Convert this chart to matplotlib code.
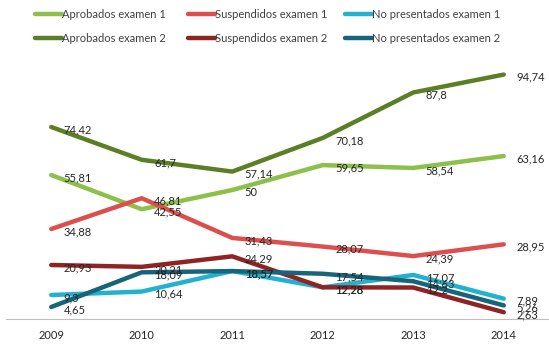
import matplotlib.pyplot as plt
from matplotlib.lines import Line2D

plt.rcParams['font.family'] = ['Lato', 'DejaVu Sans']

years = ['2009', '2010', '2011', '2012', '2013', '2014']

aprobados_1 = [55.81, 42.55, 50, 59.65, 58.54, 63.16]
suspendidos_1 = [34.88, 46.81, 31.43, 28.07, 24.39, 28.95]
no_presentados_1 = [9.3, 10.64, 18.57, 12.28, 17.07, 7.89]
aprobados_2 = [74.42, 61.7, 57.14, 70.18, 87.8, 94.74]
suspendidos_2 = [20.93, 20.21, 24.29, 12.28, 12.2, 2.63]
no_presentados_2 = [4.65, 18.09, 18.57, 17.54, 14.63, 5.26]

series = [
    ('Aprobados examen 1', aprobados_1, '#8cc04a'),
    ('Suspendidos examen 1', suspendidos_1, '#dc4f4c'),
    ('No presentados examen 1', no_presentados_1, '#22b2cf'),
    ('Aprobados examen 2', aprobados_2, '#5a7f24'),
    ('Suspendidos examen 2', suspendidos_2, '#8e2424'),
    ('No presentados examen 2', no_presentados_2, '#17657a'),
]

def fmt(v):
    s = ('%.2f' % v).rstrip('0').rstrip('.')
    return s.replace('.', ',')

fig = plt.figure(figsize=(5.49, 3.44), dpi=100)
ax = fig.add_axes([6 / 549, 25 / 344, 543 / 549, 258 / 344])

x = list(range(len(years)))
for name, vals, col in series:
    ax.plot(x, vals, color=col, lw=3.2, solid_joinstyle='round', solid_capstyle='round')
    for xi, v in zip(x, vals):
        ax.annotate(fmt(v), (xi, v), xytext=(9, -2), textcoords='offset points',
                    ha='left', va='center', fontsize=8, color='#262626')

ax.set_xlim(-0.5, 5.5)
ax.set_ylim(0, 100)
ax.set_xticks(x)
ax.set_xticklabels(years, fontsize=8, color='#262626')
ax.tick_params(axis='x', length=0, pad=8)
ax.set_yticks([])
for s in ['top', 'right', 'left']:
    ax.spines[s].set_visible(False)
ax.spines['bottom'].set_color('#bfbfbf')
ax.patch.set_alpha(0)

# legend drawn by hand: two rows of three entries
col_x = [35, 188, 345]
row_y = [14, 38]
for i, (name, vals, col) in enumerate(series):
    px = col_x[i % 3]
    py = 344 - row_y[i // 3]
    fig.add_artist(Line2D([px / 549, (px + 27) / 549], [py / 344, py / 344],
                          color=col, lw=3.2, solid_capstyle='round'))
    fig.text((px + 27) / 549, py / 344, name, fontsize=8, color='#404040',
             ha='left', va='center')

fig.savefig('out.png', dpi=100)
